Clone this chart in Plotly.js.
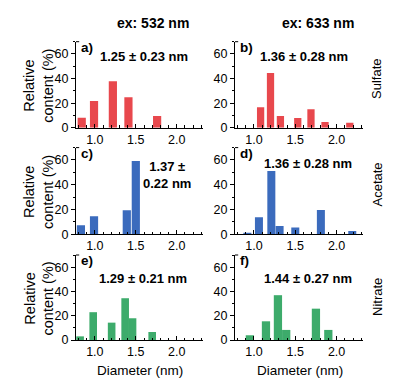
<!DOCTYPE html>
<html><head><meta charset="utf-8">
<script src="https://cdn.plot.ly/plotly-3.0.1.min.js"></script>
<style>html,body{margin:0;padding:0;background:#fff}#chart{width:408px;height:385px}</style>
</head><body><div id="chart"></div>
<script>
// Diameter (nm) bar centres and relative content (%) for each panel
const diamA = [0.84, 0.99, 1.22, 1.41, 1.76];
const contA = [8.1, 21.7, 37.8, 24.7, 9.5];
const diamB = [1.08, 1.20, 1.32, 1.53, 1.69, 1.86, 2.16];
const contB = [16.6, 44.5, 9.5, 7.9, 15.0, 4.6, 4.0];
const diamC = [0.83, 0.99, 1.39, 1.50];
const contC = [7.3, 14.5, 19.4, 59.2];
const diamD = [0.92, 1.06, 1.21, 1.31, 1.50, 1.81, 2.19];
const contD = [1.2, 13.7, 51.1, 6.7, 5.4, 19.6, 2.7];
const diamE = [0.82, 0.98, 1.205, 1.37, 1.46, 1.70];
const contE = [3.0, 22.9, 14.3, 34.4, 17.9, 6.6];
const diamF = [0.95, 1.145, 1.29, 1.39, 1.75, 1.90];
const contF = [3.9, 15.4, 36.9, 8.3, 25.8, 8.3];

const panelLabels = ['a)', 'b)', 'c)', 'd)', 'e)', 'f)'];
const sizeLabels = ['1.25 ± 0.23 nm', '1.36 ± 0.28 nm', '1.37 ±<br>0.22 nm', '1.36 ± 0.28 nm', '1.29 ± 0.21 nm', '1.44 ± 0.27 nm'];
const columnTitles = ['ex: 532 nm', 'ex: 633 nm'];
const rowLabels = ['Sulfate', 'Acetate', 'Nitrate'];
const yTitle = 'Relative<br>content (%)';
const xTitle = 'Diameter (nm)';

const W = 408, H = 385;
const FONT = 'Liberation Sans, Arial, sans-serif';
const RED = '#e8484d', BLUE = '#3b6bbd', GREEN = '#3dab6b';

const panels = [
  {x: diamA, y: contA, color: RED,   col: 0, row: 0, w: 0.10},
  {x: diamB, y: contB, color: RED,   col: 1, row: 0, w: 0.088},
  {x: diamC, y: contC, color: BLUE,  col: 0, row: 1, w: 0.10},
  {x: diamD, y: contD, color: BLUE,  col: 1, row: 1, w: 0.097},
  {x: diamE, y: contE, color: GREEN, col: 0, row: 2, w: 0.093},
  {x: diamF, y: contF, color: GREEN, col: 1, row: 2, w: 0.10}
];

const colPx = [[76, 203], [235, 363]];
const rowPx = [[41.7, 127.7], [147.6, 234.3], [255, 340]];

const traces = [];
const layout = {
  width: W, height: H,
  margin: {l: 0, r: 0, t: 0, b: 0},
  paper_bgcolor: '#fff', plot_bgcolor: 'rgba(0,0,0,0)',
  showlegend: false,
  font: {family: FONT, size: 12, color: '#000'},
  annotations: [], shapes: []
};

panels.forEach((p, i) => {
  const n = i + 1;
  const xa = 'xaxis' + (n === 1 ? '' : n), ya = 'yaxis' + (n === 1 ? '' : n);
  const xr = 'x' + (n === 1 ? '' : n), yr = 'y' + (n === 1 ? '' : n);
  traces.push({type: 'bar', x: p.x, y: p.y, width: p.w, xaxis: xr, yaxis: yr,
    marker: {color: p.color, line: {width: 0}}, hoverinfo: 'skip'});
  const c = colPx[p.col], r = rowPx[p.row];
  layout[xa] = {
    domain: [c[0] / W, c[1] / W], anchor: yr, range: [0.77, 2.32],
    tickvals: [1.0, 1.5, 2.0], ticktext: ['1.0', '1.5', '2.0'],
    ticks: 'inside', ticklen: 4, tickcolor: '#000', tickwidth: 1,
    minor: {dtick: 0.1, tick0: 0, ticks: 'inside', ticklen: 2.5, tickcolor: '#000'},
    showline: true, linecolor: '#000', linewidth: 1, showgrid: false, zeroline: false,
    tickfont: {family: FONT, size: 12.5, color: '#000'}, fixedrange: true
  };
  layout[ya] = {
    domain: [1 - r[1] / H, 1 - r[0] / H], anchor: xr, range: [0, 70],
    tickvals: [0, 20, 40, 60],
    ticks: 'outside', ticklen: 4, tickcolor: '#000', tickwidth: 1,
    minor: {dtick: 10, ticks: 'outside', ticklen: 2, tickcolor: '#000'},
    showline: true, linecolor: '#000', linewidth: 1, showgrid: false, zeroline: false,
    tickfont: {family: FONT, size: 12.5, color: '#000'}, fixedrange: true
  };
  // small top bracket on y axis
  layout.shapes.push({type: 'line', xref: xr + ' domain', yref: yr + ' domain',
    x0: 0, x1: 0.025, y0: 1, y1: 1, line: {color: '#000', width: 1}});
  // panel letter
  layout.annotations.push({text: '<b>' + panelLabels[i] + '</b>', xref: 'paper', yref: 'paper',
    x: (c[0] + 2.5) / W, y: 1 - (r[0] + 5.5) / H, xanchor: 'left', yanchor: 'middle',
    showarrow: false, font: {family: FONT, size: 13.5, color: '#000'}});
});

// size annotations (pixel centres)
const sizePos = [[144, 56.7], [304, 56.7], [167, 175], [307.5, 163], [142.5, 278], [308, 278]];
sizeLabels.forEach((t, i) => {
  layout.annotations.push({text: '<b>' + t + '</b>', xref: 'paper', yref: 'paper',
    x: sizePos[i][0] / W, y: 1 - sizePos[i][1] / H, xanchor: 'center', yanchor: 'middle',
    showarrow: false, font: {family: FONT, size: 13, color: '#000'}, align: 'center'});
});

// column titles
[[153, 23], [318, 23]].forEach((pos, i) => {
  layout.annotations.push({text: '<b>' + columnTitles[i] + '</b>', xref: 'paper', yref: 'paper',
    x: pos[0] / W, y: 1 - pos[1] / H, xanchor: 'center', yanchor: 'middle',
    showarrow: false, font: {family: FONT, size: 14, color: '#000'}});
});

// row labels on right
[79, 184.5, 297].forEach((yc, i) => {
  layout.annotations.push({text: rowLabels[i], xref: 'paper', yref: 'paper',
    x: 377 / W, y: 1 - yc / H, xanchor: 'center', yanchor: 'middle', textangle: -90,
    showarrow: false, font: {family: FONT, size: 13, color: '#000'}});
});

// y titles
rowPx.forEach(r => {
  layout.annotations.push({text: yTitle, xref: 'paper', yref: 'paper',
    x: 39 / W, y: 1 - ((r[0] + r[1]) / 2 + 1) / H, xanchor: 'center', yanchor: 'middle', textangle: -90,
    showarrow: false, font: {family: FONT, size: 14.5, color: '#000'}, align: 'center'});
});

// x titles
[140, 300].forEach(xc => {
  layout.annotations.push({text: xTitle, xref: 'paper', yref: 'paper',
    x: xc / W, y: 1 - 370 / H, xanchor: 'center', yanchor: 'middle',
    showarrow: false, font: {family: FONT, size: 13.5, color: '#000'}});
});

Plotly.newPlot('chart', traces, layout, {displayModeBar: false, staticPlot: true});
</script></body></html>
